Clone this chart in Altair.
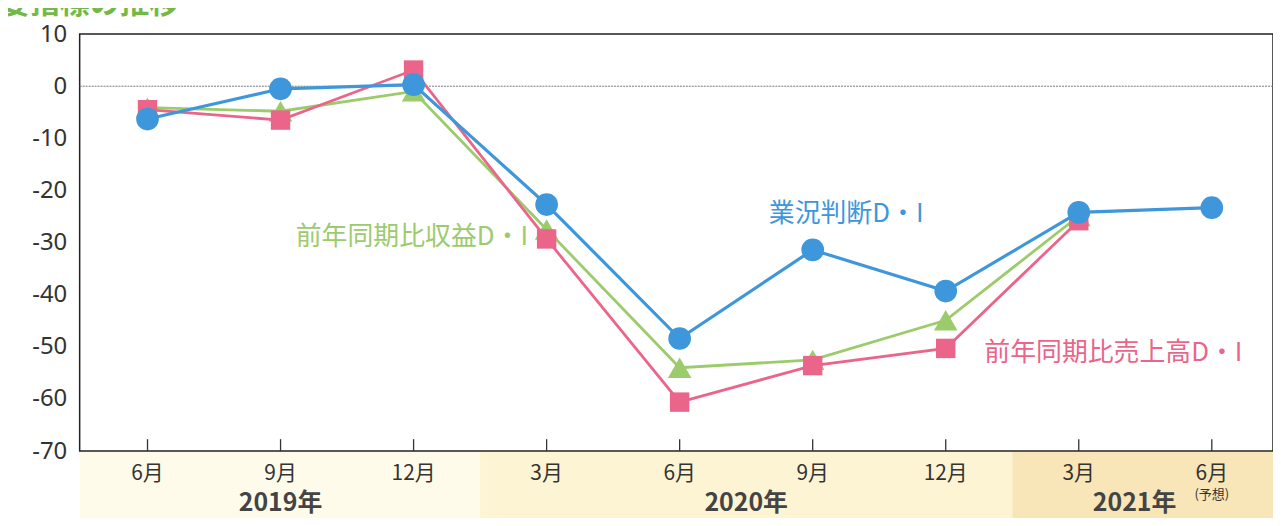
import altair as alt
import pandas as pd

# ---- data ----
months = ["6月", "9月", "12月", "3月", "6月", "9月", "12月", "3月", "6月"]
gyokyo = [-6.3, -0.5, 0.3, -22.7, -48.4, -31.4, -39.3, -24.2, -23.3]   # 業況判断D・I
shueki = [-4.1, -4.8, -1.0, -27.5, -54.0, -52.5, -44.9, -24.9]         # 前年同期比収益D・I
uriage = [-4.5, -6.5, 3.1, -29.3, -60.6, -53.6, -50.3, -25.8]          # 前年同期比売上高D・I

years = ["2019年", "2020年", "2021年"]
year_at = [1.0, 4.5, 7.42]
band_from = [-0.51, 2.5, 6.5]
band_to = [2.5, 6.5, 8.46]

series_names = ["業況判断D・I", "前年同期比収益D・I", "前年同期比売上高D・I"]
label_at_x = [4.67, 2.86, 6.29]
label_at_y = [-24.6, -29.0, -51.2]

# ---- styles ----
W, H = 1199, 419
BLUE, GREEN, PINK = "#3d97da", "#9ccb6c", "#eb6489"
band_colors = ["#fefbea", "#fdf4d3", "#f8e6b8"]
JP = "Noto Sans CJK JP"

xs = alt.Scale(domain=[-0.51, 8.46], nice=False, zero=False)
ys = alt.Scale(domain=[-70, 10], nice=False, zero=False)
yaxis = alt.Axis(values=list(range(-70, 11, 10)), grid=False, ticks=False, tickSize=0,
                 domain=False, labelFontSize=24, labelPadding=13, labelColor="#333",
                 labelFont="Noto Sans", labelExpr="'' + datum.value", title=None)


def X(f):
    return alt.X(f, scale=xs, axis=None)


def Y(f):
    return alt.Y(f, scale=ys, axis=yaxis)


bands_df = pd.DataFrame({"s": band_from, "e": band_to, "c": band_colors})
bands = alt.Chart(bands_df).mark_rect().encode(
    x=X("s:Q"), x2="e:Q", y=alt.value(H + 1), y2=alt.value(H + 90),
    color=alt.Color("c:N", scale=None))

zero = alt.Chart(pd.DataFrame({"v": [0]})).mark_rule(
    color="#777", strokeWidth=1, strokeDash=[2, 1]).encode(y=Y("v:Q"))

ticks_df = pd.DataFrame({"i": list(range(len(months)))})
ticks = alt.Chart(ticks_df).mark_rule(color="#333", strokeWidth=1.3).encode(
    x=X("i:Q"), y=alt.value(H), y2=alt.value(H - 12))


def series(vals, color, shape, size, lw):
    df = pd.DataFrame({"i": list(range(len(vals))), "v": vals})
    base = alt.Chart(df).encode(x=X("i:Q"), y=Y("v:Q"))
    line = base.mark_line(color=color, strokeWidth=lw)
    pts = base.mark_point(shape=shape, filled=True, size=size, color=color, opacity=1)
    return line + pts


green = series(shueki, GREEN, "triangle-up", 560, 2.8)
pink = series(uriage, PINK, "square", 380, 2.8)
blue = series(gyokyo, BLUE, "circle", 520, 3.2)

lab_df = pd.DataFrame({"x": label_at_x, "y": label_at_y, "t": series_names,
                       "c": [BLUE, GREEN, PINK], "a": ["left", "right", "left"]})
labels = []
for k in range(3):
    d = lab_df.iloc[[k]]
    labels.append(alt.Chart(d).mark_text(
        font=JP, fontSize=26, align=lab_df["a"][k], baseline="middle",
        color=lab_df["c"][k]).encode(x=X("x:Q"), y=Y("y:Q"), text="t:N"))

month_df = pd.DataFrame({"i": list(range(len(months))), "m": months})
month_labels = alt.Chart(month_df).mark_text(
    font=JP, fontSize=21, color="#333", baseline="middle", align="center").encode(
    x=X("i:Q"), y=alt.value(H + 23), text="m:N")

year_df = pd.DataFrame({"x": year_at, "t": years})
year_labels = alt.Chart(year_df).mark_text(
    font=JP, fontSize=25, fontWeight="bold", color="#444", baseline="middle").encode(
    x=X("x:Q"), y=alt.value(H + 52), text="t:N")

yoso = alt.Chart(pd.DataFrame({"x": [8], "t": ["(予想)"]})).mark_text(
    font=JP, fontSize=13, color="#333", baseline="middle").encode(
    x=X("x:Q"), y=alt.value(H + 44), text="t:N")

title = alt.Chart(pd.DataFrame({"t": ["要指標の推移"]})).mark_text(
    font=JP, fontSize=30, fontWeight="bold", color="#74b946", align="left",
    baseline="alphabetic").encode(x=alt.value(-80), y=alt.value(-21), text="t:N")

chart = alt.layer(
    bands, zero, ticks, green, pink, blue, *labels, month_labels, year_labels, yoso, title
).properties(
    width=W, height=H,
    padding={"left": 72, "top": 25, "right": 0, "bottom": 66},
    autosize=alt.AutoSizeParams(type="none"),
).configure_view(stroke="#222", strokeWidth=1.5)

chart.save("out.html", embed_options={"renderer": "svg", "actions": False})
